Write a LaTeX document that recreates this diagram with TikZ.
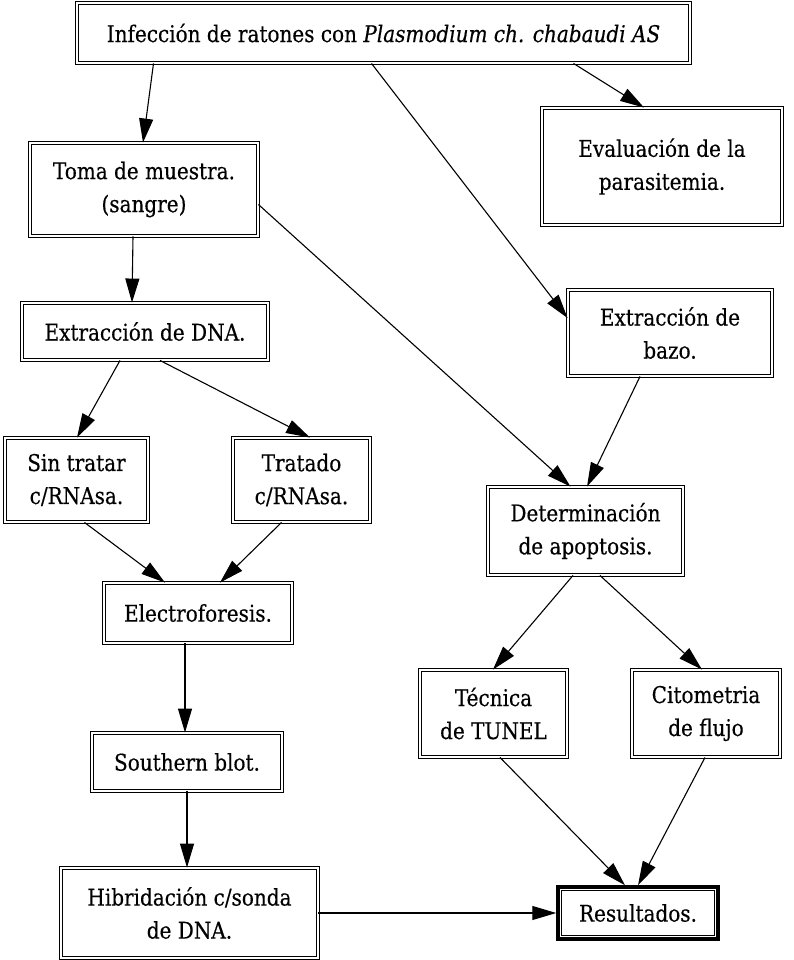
\documentclass[tikz,border=0pt]{standalone}
\usepackage{fontspec}
\setmainfont{DejaVu Serif}[FakeStretch=0.87,FakeBold=0.4]
\usetikzlibrary{arrows.meta}
\begin{document}
\begin{tikzpicture}[x=1pt,y=-1pt,
  box/.style={draw=black, double=white, double distance=2.4pt, line width=0.9pt,
    align=center, inner sep=2pt, font=\fontsize{23}{33}\selectfont},
  arr/.style={line width=1.1pt, -{Triangle[length=24pt,width=14pt]}}]
\useasboundingbox (0,0) rectangle (794,960);
\node[box, minimum width=613pt, minimum height=60pt] (top) at (383.5,33)
  {Infección de ratones con \textit{Plasmodium ch. chabaudi AS}};
\node[box, minimum width=228pt, minimum height=93pt] (toma) at (144,189.5)
  {Toma de muestra.\\(sangre)};
\node[box, minimum width=240pt, minimum height=117pt] (eval) at (662,166.5)
  {Evaluación de la\\parasitemia.};
\node[box, minimum width=246pt, minimum height=57pt] (dna) at (145,331.5)
  {Extracción de DNA.};
\node[box, minimum width=204pt, minimum height=86pt] (bazo) at (670,333)
  {Extracción de\\bazo.};
\node[box, minimum width=143pt, minimum height=84pt] (sin) at (76.5,480)
  {Sin tratar\\c/RNAsa.};
\node[box, minimum width=137pt, minimum height=84pt] (trat) at (301.5,480)
  {Tratado\\c/RNAsa.};
\node[box, minimum width=195pt, minimum height=88pt] (det) at (585.5,531)
  {Determinación\\de apoptosis.};
\node[box, minimum width=188pt, minimum height=60pt] (elec) at (198,613)
  {Electroforesis.};
\node[box, minimum width=147pt, minimum height=87pt] (tec) at (493.5,713.5)
  {Técnica\\de TUNEL};
\node[box, minimum width=148pt, minimum height=87pt] (cito) at (706,713.5)
  {Citometria\\de flujo};
\node[box, minimum width=190pt, minimum height=58pt] (south) at (187,762)
  {Southern blot.};
\node[box, minimum width=257pt, minimum height=90pt] (hib) at (189.5,913)
  {Hibridación c/sonda\\de DNA.};
\node[draw=black, line width=3.5pt, minimum width=160pt, minimum height=52pt,
  font=\fontsize{23}{33}\selectfont] (res) at (638,913) {Resultados.};
\draw[line width=0.9pt] ([shift={(5pt,5pt)}]res.south west) rectangle ([shift={(-5pt,-5pt)}]res.north east);

\draw[arr] ([xshift=-230pt]top.south) -- ([xshift=-1pt]toma.north);
\draw[arr] ([xshift=-12pt]top.south) -- ([yshift=15pt]bazo.west);
\draw[arr] ([xshift=190pt]top.south) -- ([xshift=-18pt]eval.north);
\draw[arr] ([xshift=-11pt]toma.south) -- ([xshift=-13pt]dna.north);
\draw[arr] ([yshift=-15pt]toma.east) -- ([xshift=-15pt]det.north);
\draw[arr] ([xshift=-25pt]dna.south) -- ([xshift=0.5pt]sin.north);
\draw[arr] ([xshift=15pt]dna.south) -- ([xshift=8.5pt]trat.north);
\draw[arr] ([xshift=8pt]sin.south) -- ([xshift=-33pt]elec.north);
\draw[arr] ([xshift=-20pt]trat.south) -- ([xshift=22pt]elec.north);
\draw[arr] ([xshift=-30pt]bazo.south) -- ([xshift=1.5pt]det.north);
\draw[arr] ([xshift=-13pt]elec.south) -- ([xshift=-2pt]south.north);
\draw[arr] (south.south) -- ([xshift=-2.5pt]hib.north);
\draw[arr] (hib.east) -- (res.west);
\draw[arr] ([xshift=-12.5pt]det.south) -- ([xshift=-0.5pt]tec.north);
\draw[arr] ([xshift=14.5pt]det.south) -- ([xshift=-4pt]cito.north);
\draw[arr] ([xshift=6.5pt]tec.south) -- ([xshift=-13pt]res.north);
\draw[arr] ([xshift=-1pt]cito.south) -- (res.north);
\end{tikzpicture}
\end{document}
